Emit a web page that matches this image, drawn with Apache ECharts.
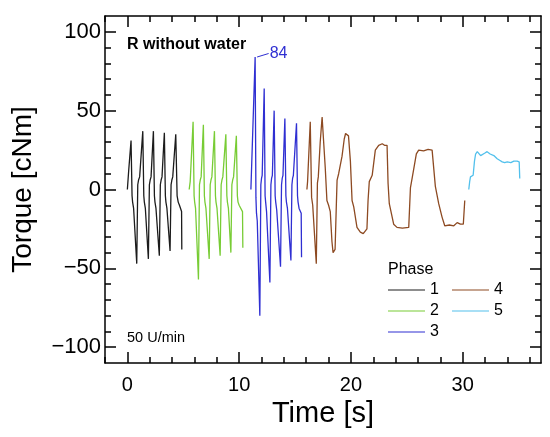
<!DOCTYPE html>
<html><head><meta charset="utf-8">
<script src="https://cdn.jsdelivr.net/npm/echarts@6/dist/echarts.min.js"></script>
<style>html,body{margin:0;padding:0;background:#fff}#c{width:550px;height:437px}</style>
</head><body><div id="c"></div>
<script>
// ---------- data (time [s], torque [cNm]) ----------
const phaseNames = ['1', '2', '3', '4', '5'];

const phase1 = [
  [0.00,0],[0.12,12],[0.33,31],[0.42,-4],[0.47,-8],[0.56,-12],[0.84,-47],
  [0.93,3],[1.00,6],[1.10,8],[1.38,37],[1.47,-4],[1.52,-8],[1.61,-12],[1.88,-44],
  [1.97,3],[2.04,6],[2.12,8],[2.33,37],[2.42,-4],[2.47,-8],[2.56,-12],[2.86,-42],
  [2.95,3],[3.02,6],[3.10,8],[3.31,36],[3.40,-4],[3.45,-8],[3.54,-12],[3.82,-39],
  [3.91,3],[3.98,6],[4.06,8],[4.33,35],[4.45,-4],[4.55,-8],[4.66,-10],[4.85,-14],[4.87,-38]
];
const phase2 = [
  [5.53,0],[5.62,5],[5.88,43],[5.97,-4],[6.02,-8],[6.10,-12],[6.36,-57],
  [6.45,3],[6.52,6],[6.60,8],[6.80,41],[6.89,-4],[6.94,-8],[7.03,-12],[7.32,-44],
  [7.41,3],[7.48,6],[7.56,8],[7.79,37],[7.88,-4],[7.93,-8],[8.02,-12],[8.30,-42],
  [8.39,3],[8.46,6],[8.54,8],[8.81,35],[8.90,-4],[8.95,-8],[9.04,-12],[9.26,-40],
  [9.35,3],[9.42,6],[9.50,8],[9.75,34],[9.84,-4],[9.90,-8],[10.00,-10],[10.30,-14],[10.33,-37]
];
const phase3 = [
  [11.05,0],[11.15,1],[11.43,84],[11.50,-5],[11.55,-15],[11.62,-20],[11.85,-80],
  [11.94,3],[12.00,7],[12.06,9],[12.24,64],[12.32,-4],[12.37,-8],[12.45,-14],[12.75,-59],
  [12.84,3],[12.90,7],[12.97,9],[13.13,50],[13.22,-4],[13.27,-8],[13.36,-13],[13.70,-49],
  [13.79,3],[13.85,7],[13.92,9],[14.09,45],[14.18,-4],[14.23,-8],[14.32,-12],[14.63,-45],
  [14.72,3],[14.78,7],[14.85,9],[15.13,42],[15.22,-4],[15.27,-8],[15.36,-12],[15.55,-15],[15.58,-43]
];
const phase4 = [
  [16.06,0],[16.12,5],[16.36,43],[16.48,-5],[16.58,-10],[16.90,-47],
  [17.00,4],[17.08,8],[17.25,30],[17.42,46],[17.50,47],[17.56,45],[17.70,14],[17.85,-7],
  [18.00,-10],[18.15,-14],[18.30,-33],[18.40,-40],[18.48,-41],[18.58,-38],[18.70,-8],[18.76,6],[18.90,10],
  [19.20,21],[19.40,32],[19.52,35.5],[19.62,36],[19.78,34],[19.95,18],[20.10,-7],[20.25,-11],[20.54,-24],
  [20.84,-27],[21.10,-28],[21.43,-25],[21.53,-7],[21.64,5],[21.90,9],[22.18,25],[22.48,28],
  [22.80,29],[23.00,28],[23.23,28],[23.32,4],[23.43,-9],[23.82,-22],[24.12,-24],[24.60,-24.5],
  [25.17,-24],[25.32,1],[25.47,7],[25.85,22.6],[26.06,25],[26.50,24.5],[26.90,25.5],[27.26,25],
  [27.55,2],[27.85,-9],[28.15,-17.5],[28.39,-23],[28.80,-22.5],[29.20,-23],[29.50,-21],
  [29.79,-22],[30.05,-22],[30.18,-7]
];
const phase5 = [
  [30.54,0],[30.62,5],[30.69,8],[30.93,9],[31.05,18],[31.15,22.5],[31.30,24],[31.45,23],
  [31.60,21.5],[31.75,22],[31.95,23],[32.18,24],[32.45,22.5],[32.78,21.5],[33.08,19.5],
  [33.30,18.5],[33.53,17.5],[33.75,17],[33.98,17.5],[34.30,17],[34.57,18],[34.87,18],
  [35.05,17.5],[35.10,7]
];
const phases = [phase1, phase2, phase3, phase4, phase5];

const xMajorTicks = [0, 10, 20, 30];
const xMinorTicks = [-2, 2, 4, 6, 8, 12, 14, 16, 18, 22, 24, 26, 28, 32, 34, 36];
const yMajorTicks = [-100, -50, 0, 50, 100];
const yMinorTicks = [-90, -80, -70, -60, -40, -30, -20, -10, 10, 20, 30, 40, 60, 70, 80, 90];
const peakPoint = [11.43, 84];
const peakText = '84';

// ---------- styling ----------
const FONT = '"Liberation Sans", Arial, sans-serif';
const colors = ['#1c1c1c', '#78cc35', '#2f2fd2', '#8d4a22', '#52c0ec'];
const X_MIN = -2, X_MAX = 37, Y_MIN = -110, Y_MAX = 110;
const lineBlack = { color: '#000', width: 1.5 };

function xAx(pos, ticks, len, major) {
  return {
    type: 'value', position: pos, min: X_MIN, max: X_MAX,
    axisLine: { show: major, onZero: false, lineStyle: lineBlack },
    axisTick: { show: true, inside: true, length: len, customValues: ticks, lineStyle: lineBlack },
    axisLabel: (pos === 'bottom' && major)
      ? { show: true, customValues: xMajorTicks, margin: 12, fontSize: 20, color: '#000', fontFamily: FONT }
      : { show: false },
    splitLine: { show: false }
  };
}
function yAx(pos, ticks, len, major) {
  return {
    type: 'value', position: pos, min: Y_MIN, max: Y_MAX,
    axisLine: { show: major, onZero: false, lineStyle: lineBlack },
    axisTick: { show: true, inside: true, length: len, customValues: ticks, lineStyle: lineBlack },
    axisLabel: (pos === 'left' && major)
      ? { show: true, customValues: yMajorTicks, margin: 4, fontSize: 22, color: '#000', fontFamily: FONT,
          formatter: v => (v < 0 ? '\u2212' + Math.abs(v) : String(v)) }
      : { show: false },
    splitLine: { show: false }
  };
}

const xAxes = [
  Object.assign(xAx('bottom', xMajorTicks, 11, true), {
    name: 'Time [s]', nameLocation: 'middle', nameGap: 36,
    nameTextStyle: { fontSize: 29, color: '#000', fontFamily: FONT }
  }),
  xAx('bottom', xMinorTicks, 6, false),
  xAx('top', xMajorTicks, 11, true),
  xAx('top', xMinorTicks, 6, false)
];
const yAxes = [
  Object.assign(yAx('left', yMajorTicks, 11, true), {
    name: 'Torque [cNm]', nameLocation: 'middle', nameGap: 68,
    nameTextStyle: { fontSize: 28, color: '#000', fontFamily: FONT }
  }),
  yAx('left', yMinorTicks, 6, false),
  yAx('right', yMajorTicks, 11, true),
  yAx('right', yMinorTicks, 6, false)
];

const series = phases.map((d, i) => ({
  type: 'line', name: phaseNames[i], data: d,
  xAxisIndex: 0, yAxisIndex: 0,
  symbol: 'none', showSymbol: false, smooth: false,
  lineStyle: { color: colors[i], width: 1.3 },
  itemStyle: { color: colors[i] },
  emphasis: { disabled: true }
}));

const legendCommon = {
  orient: 'vertical', itemWidth: 37, itemHeight: 14, itemGap: 5, selectedMode: false,
  icon: 'path://M0,0 L37,0 L37,1 L0,1 Z',
  textStyle: { fontSize: 16, lineHeight: 15, color: '#000', fontFamily: FONT, padding: 0 },
  padding: 0
};

const chart = echarts.init(document.getElementById('c'), null, { renderer: 'canvas' });
chart.setOption({
  animation: false,
  backgroundColor: '#fff',
  textStyle: { fontFamily: FONT },
  grid: { left: 105, right: 9, top: 16, bottom: 74, containLabel: false },
  xAxis: xAxes,
  yAxis: yAxes,
  legend: [
    Object.assign({ data: ['1', '2', '3'], left: 388, top: 282 }, legendCommon),
    Object.assign({ data: ['4', '5'], left: 452, top: 282 }, legendCommon)
  ],
  series: series
});

const pk = chart.convertToPixel({ xAxisIndex: 0, yAxisIndex: 0 }, peakPoint);
chart.setOption({
  graphic: [
    { type: 'text', x: 127, y: 45, style: { text: 'R without water', font: 'bold 16px ' + FONT,
      fill: '#000', textVerticalAlign: 'middle', verticalAlign: 'middle' } },
    { type: 'text', x: 127, y: 338, style: { text: '50 U/min', font: '14.5px ' + FONT, fill: '#000',
      verticalAlign: 'middle', textVerticalAlign: 'middle' } },
    { type: 'text', x: 388, y: 270, style: { text: 'Phase', font: '16px ' + FONT, fill: '#000',
      verticalAlign: 'middle', textVerticalAlign: 'middle' } },
    { type: 'line', shape: { x1: pk[0] + 2, y1: pk[1], x2: pk[0] + 13.5, y2: pk[1] - 3.5 },
      style: { stroke: colors[2], lineWidth: 1 } },
    { type: 'text', x: pk[0] + 14.5, y: pk[1] - 3, style: { text: peakText, font: '16px ' + FONT,
      fill: colors[2], verticalAlign: 'middle', textVerticalAlign: 'middle' } }
  ]
});
</script>
</body></html>
